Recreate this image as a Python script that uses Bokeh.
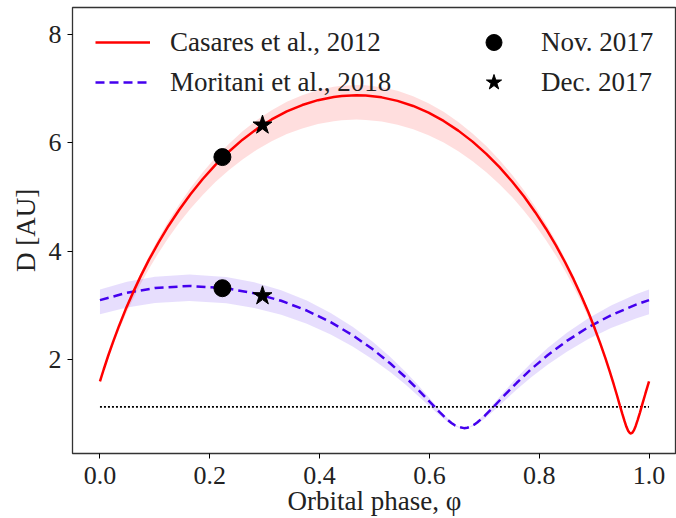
from bokeh.plotting import figure
from bokeh.models import Range1d, FixedTicker, PrintfTickFormatter, Legend, LegendItem
from bokeh.embed import file_html
from bokeh.resources import INLINE

# ---------------- data ----------------
red_phase = [0.0, 0.0068, 0.0150, 0.0244, 0.0349, 0.0466, 0.0597, 0.0740, 0.0896, 0.1066,
             0.1248, 0.1444, 0.1652, 0.1872, 0.2103, 0.2346, 0.2597, 0.2858, 0.3127, 0.3403,
             0.3684, 0.3970, 0.4258, 0.4403, 0.4670, 0.4840, 0.5130, 0.5419, 0.5704, 0.5984,
             0.6259, 0.6526, 0.6786, 0.7036, 0.7276, 0.7506, 0.7724, 0.7930, 0.8123, 0.8304,
             0.8471, 0.8625, 0.8767, 0.8895, 0.9010, 0.9113, 0.9205, 0.9285, 0.9356, 0.9417,
             0.9469, 0.9515, 0.9554, 0.9588, 0.9619, 0.9647, 0.9670, 0.9697, 0.9726, 0.9757,
             0.9792, 0.9833, 0.9879, 0.9933, 1.0]
red_d = [1.599, 1.820, 2.074, 2.344, 2.629, 2.925, 3.229, 3.539, 3.851, 4.162,
         4.469, 4.769, 5.059, 5.335, 5.597, 5.839, 6.061, 6.260, 6.434, 6.582,
         6.700, 6.790, 6.850, 6.868, 6.881, 6.876, 6.842, 6.777, 6.683, 6.559,
         6.407, 6.228, 6.025, 5.800, 5.554, 5.290, 5.011, 4.719, 4.418, 4.110,
         3.799, 3.487, 3.178, 2.875, 2.580, 2.298, 2.030, 1.779, 1.548, 1.340,
         1.155, 0.996, 0.866, 0.763, 0.691, 0.650, 0.639, 0.655, 0.701, 0.779,
         0.886, 1.021, 1.184, 1.373, 1.599]
red_hi = [1.610, 1.836, 2.095, 2.371, 2.663, 2.967, 3.280, 3.599, 3.921, 4.243,
          4.560, 4.871, 5.172, 5.459, 5.732, 5.983, 6.215, 6.422, 6.604, 6.759,
          6.882, 6.976, 7.039, 7.057, 7.071, 7.066, 7.030, 6.962, 6.864, 6.735,
          6.576, 6.389, 6.177, 5.943, 5.687, 5.412, 5.122, 4.819, 4.508, 4.189,
          3.867, 3.546, 3.227, 2.916, 2.613, 2.324, 2.050, 1.794, 1.559, 1.347,
          1.160, 0.999, 0.867, 0.764, 0.692, 0.651, 0.640, 0.656, 0.702, 0.780,
          0.887, 1.024, 1.189, 1.381, 1.610]
red_lo = [1.572, 1.783, 2.024, 2.280, 2.548, 2.825, 3.109, 3.396, 3.685, 3.971,
          4.253, 4.527, 4.791, 5.041, 5.278, 5.497, 5.697, 5.875, 6.031, 6.164,
          6.269, 6.350, 6.403, 6.419, 6.431, 6.426, 6.396, 6.338, 6.254, 6.143,
          6.007, 5.847, 5.664, 5.462, 5.240, 5.001, 4.747, 4.481, 4.206, 3.923,
          3.637, 3.348, 3.061, 2.779, 2.502, 2.236, 1.983, 1.744, 1.523, 1.323,
          1.144, 0.990, 0.863, 0.762, 0.690, 0.649, 0.638, 0.654, 0.700, 0.778,
          0.882, 1.014, 1.172, 1.355, 1.572]

blue_phase = [0.0, 0.0492, 0.1002, 0.1630, 0.2301, 0.2810, 0.3301, 0.3767, 0.4202, 0.4602,
              0.4963, 0.5284, 0.5564, 0.5806, 0.6012, 0.6186, 0.6334, 0.6401, 0.6464, 0.6524,
              0.6630, 0.6688, 0.6746, 0.6807, 0.6870, 0.7010, 0.7173, 0.7364, 0.7591, 0.7854,
              0.8158, 0.8503, 0.8887, 0.9308, 0.9762, 1.0]
blue_d = [3.101, 3.236, 3.324, 3.362, 3.319, 3.227, 3.088, 2.908, 2.693, 2.453,
          2.197, 1.935, 1.678, 1.435, 1.217, 1.032, 0.888, 0.833, 0.790, 0.760,
          0.738, 0.745, 0.764, 0.797, 0.842, 0.967, 1.136, 1.341, 1.575, 1.827,
          2.088, 2.348, 2.596, 2.822, 3.017, 3.101]
blue_hi = [3.296, 3.439, 3.532, 3.572, 3.526, 3.429, 3.282, 3.092, 2.864, 2.609,
           2.336, 2.056, 1.780, 1.518, 1.281, 1.077, 0.916, 0.854, 0.803, 0.767,
           0.752, 0.755, 0.772, 0.812, 0.863, 1.005, 1.192, 1.416, 1.669, 1.940,
           2.220, 2.497, 2.761, 3.001, 3.207, 3.296]
blue_lo = [2.841, 2.966, 3.047, 3.082, 3.042, 2.957, 2.829, 2.663, 2.465, 2.245,
           2.011, 1.773, 1.542, 1.324, 1.132, 0.972, 0.850, 0.806, 0.772, 0.750,
           0.726, 0.737, 0.753, 0.777, 0.812, 0.916, 1.061, 1.241, 1.449, 1.676,
           1.912, 2.149, 2.376, 2.584, 2.763, 2.841]

threshold_phase = [0.0, 1.0]
threshold_d = [1.13, 1.13]

nov_phase = [0.223, 0.223]
nov_d = [5.74, 3.32]
dec_phase = [0.296, 0.296]
dec_d = [6.33, 3.18]

x_ticks = [0.0, 0.2, 0.4, 0.6, 0.8, 1.0]
y_ticks = [2, 4, 6, 8]

labels = ["Casares et al., 2012", "Moritani et al., 2018", "Nov. 2017", "Dec. 2017"]

# ---------------- styling ----------------
FONT = "Liberation Serif"
RED = "#ff0000"
BLUE = "#4400ee"

p = figure(width=676, height=518,
           x_range=Range1d(-0.05, 1.05), y_range=Range1d(0.27, 8.5),
           output_backend="svg", toolbar_location=None,
           min_border_left=72, min_border_right=0, min_border_top=7, min_border_bottom=65)
p.background_fill_color = "white"
p.border_fill_color = "white"
p.grid.visible = False
p.outline_line_color = "#333333"
p.outline_line_width = 1.3

p.varea(x=red_phase, y1=red_lo, y2=red_hi, fill_color=RED, fill_alpha=0.13)
p.varea(x=blue_phase, y1=blue_lo, y2=blue_hi, fill_color=BLUE, fill_alpha=0.13)
p.line(threshold_phase, threshold_d, line_color="black", line_width=1.6, line_dash="2 2")
r_blue = p.line(blue_phase, blue_d, line_color=BLUE, line_width=2.5, line_dash="9 5")
r_red = p.line(red_phase, red_d, line_color=RED, line_width=2.5)
r_nov = p.scatter(nov_phase, nov_d, marker="circle", size=17, fill_color="black", line_color="black")
r_dec = p.scatter(dec_phase, dec_d, marker="star", size=20, fill_color="black", line_color="black")

for ax in (p.xaxis[0], p.yaxis[0]):
    ax.axis_line_color = None
    ax.major_tick_line_color = "black"
    ax.major_tick_out = 5
    ax.major_tick_in = 0
    ax.minor_tick_line_color = None
    ax.major_label_text_font = FONT
    ax.major_label_text_font_size = "26px"
    ax.major_label_text_color = "#222222"
    ax.axis_label_text_font = FONT
    ax.axis_label_text_font_size = "27px"
    ax.axis_label_text_font_style = "normal"
    ax.axis_label_text_color = "#222222"

p.xaxis.ticker = FixedTicker(ticks=x_ticks)
p.xaxis.formatter = PrintfTickFormatter(format="%.1f")
p.yaxis.ticker = FixedTicker(ticks=y_ticks)
p.xaxis.axis_label = "Orbital phase, φ"
p.yaxis.axis_label = "D [AU]"
p.xaxis.major_label_standoff = 8
p.xaxis.axis_label_standoff = -1
p.yaxis.major_label_standoff = 6
p.yaxis.axis_label_standoff = 5

legend = Legend(items=[LegendItem(label=labels[0], renderers=[r_red]),
                       LegendItem(label=labels[1], renderers=[r_blue]),
                       LegendItem(label=labels[2], renderers=[r_nov], index=0),
                       LegendItem(label=labels[3], renderers=[r_dec], index=0)],
                ncols=2, location=(23, 351), glyph_width=55, glyph_height=40,
                label_standoff=20, spacing=-2, padding=23, margin=0,
                border_line_color=None, background_fill_alpha=0,
                label_text_font=FONT, label_text_font_size="27px",
                label_text_color="#222222", label_width=296)
p.add_layout(legend)

open("out.html", "w").write(file_html(p, INLINE))
